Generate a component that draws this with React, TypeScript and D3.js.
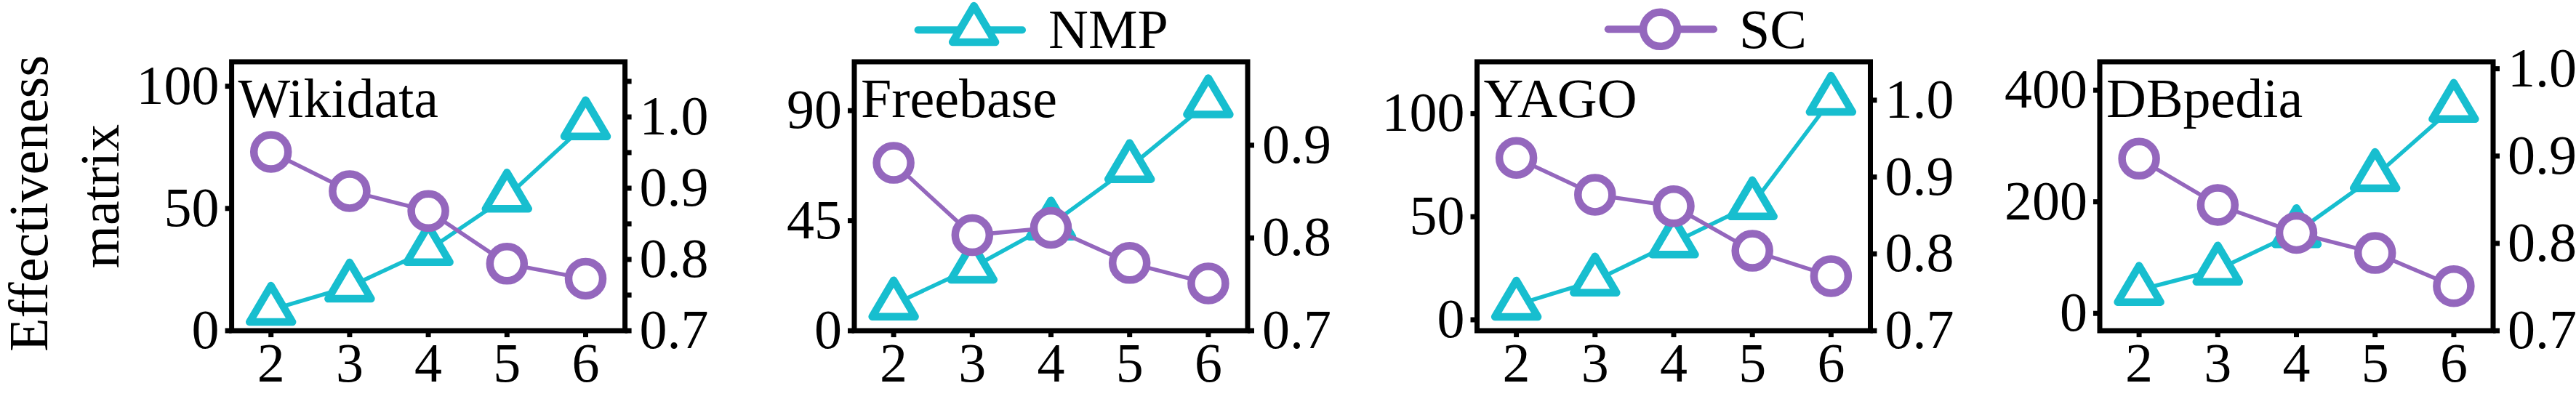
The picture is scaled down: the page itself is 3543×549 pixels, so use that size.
import React from "react";
import * as d3 from "d3";

// hops on the x axis
const hops = [2, 3, 4, 5, 6];
const datasets = ["Wikidata", "Freebase", "YAGO", "DBpedia"];

// NMP (left axis) and SC (right axis)
const nmpWikidata = [8.5, 18.0, 33.0, 54.8, 84.4];
const scWikidata = [0.951, 0.896, 0.868, 0.794, 0.773];
const nmpFreebase = [10.7, 25.8, 43.4, 66.9, 93.4];
const scFreebase = [0.881, 0.803, 0.811, 0.773, 0.751];
const nmpYago = [7.3, 19.0, 37.5, 56.0, 106.7];
const scYago = [0.925, 0.877, 0.862, 0.804, 0.771];
const nmpDbpedia = [42, 78.4, 145.5, 246, 370];
const scDbpedia = [0.897, 0.844, 0.812, 0.789, 0.751];

// tick labels
const leftTicks = [
  [0, 50, 100],
  [0, 45, 90],
  [0, 50, 100],
  [0, 200, 400],
];
const rightTicks = [
  [0.7, 0.75, 0.8, 0.85, 0.9, 0.95, 1.0, 1.05],
  [0.7, 0.8, 0.9],
  [0.7, 0.8, 0.9, 1.0],
  [0.7, 0.8, 0.9, 1.0],
];
const rightLabelled = [0.7, 0.8, 0.9, 1.0];

const nmpSeries = [nmpWikidata, nmpFreebase, nmpYago, nmpDbpedia];
const scSeries = [scWikidata, scFreebase, scYago, scDbpedia];

// axis limits of each panel
const leftDomains = [
  [0, 110],
  [0, 110],
  [-5.3, 125.2],
  [-31, 451],
];
const rightDomains = [
  [0.7, 1.0775],
  [0.7, 0.99],
  [0.7, 1.05],
  [0.7, 1.008],
];

const CYAN = "#17becf";
const PURPLE = "#9467bd";
const FONT = "'Liberation Serif', 'Times New Roman', Times, serif";
const FS = 76;

const dims = { width: 3543, height: 549 };
const panelLefts = [318.6, 1175, 2031.5, 2888];
const panel = { width: 541, top: 85, bottom: 455 };
const tick = 9;
const tri = { w: 59, h: 50 };
const circleR = 23.5;

const triPath = (cx: number, cy: number) =>
  `M${cx},${cy - (2 * tri.h) / 3}L${cx - tri.w / 2},${cy + tri.h / 3}L${
    cx + tri.w / 2
  },${cy + tri.h / 3}Z`;

const Panel = ({ i }: { i: number }) => {
  const left = panelLefts[i];
  const right = left + panel.width;

  const x = d3.scaleLinear().domain([1.5, 6.5]).range([left, right]);
  const yL = d3
    .scaleLinear()
    .domain(leftDomains[i])
    .range([panel.bottom, panel.top]);
  const yR = d3
    .scaleLinear()
    .domain(rightDomains[i])
    .range([panel.bottom, panel.top]);

  const nmp = hops.map((h, k) => [x(h), yL(nmpSeries[i][k])] as [number, number]);
  const sc = hops.map((h, k) => [x(h), yR(scSeries[i][k])] as [number, number]);
  const line = d3.line();

  return (
    <g>
      {/* NMP */}
      <path d={line(nmp)!} fill="none" stroke={CYAN} strokeWidth={5.5} />
      {nmp.map(([cx, cy], k) => (
        <path
          key={`t${k}`}
          d={triPath(cx, cy)}
          fill="#fff"
          stroke={CYAN}
          strokeWidth={10.5}
          strokeLinejoin="round"
        />
      ))}
      {/* SC */}
      <path d={line(sc)!} fill="none" stroke={PURPLE} strokeWidth={5.5} />
      {sc.map(([cx, cy], k) => (
        <circle
          key={`c${k}`}
          cx={cx}
          cy={cy}
          r={circleR}
          fill="#fff"
          stroke={PURPLE}
          strokeWidth={10.5}
        />
      ))}

      {/* frame */}
      <rect
        x={left}
        y={panel.top}
        width={panel.width}
        height={panel.bottom - panel.top}
        fill="none"
        stroke="#000"
        strokeWidth={7}
      />

      {/* left axis */}
      {leftTicks[i].map((t) => (
        <g key={`l${t}`}>
          <line
            x1={left - tick}
            x2={left}
            y1={yL(t)}
            y2={yL(t)}
            stroke="#000"
            strokeWidth={7}
          />
          <text
            x={left - tick - 8}
            y={yL(t) + 24}
            textAnchor="end"
            fontFamily={FONT}
            fontSize={FS}
          >
            {t}
          </text>
        </g>
      ))}

      {/* right axis */}
      {rightTicks[i].map((t) => (
        <g key={`r${t}`}>
          <line
            x1={right}
            x2={right + tick}
            y1={yR(t)}
            y2={yR(t)}
            stroke="#000"
            strokeWidth={7}
          />
          {rightLabelled.some((v) => Math.abs(v - t) < 1e-9) && (
            <text
              x={right + tick + 11}
              y={yR(t) + 24}
              fontFamily={FONT}
              fontSize={FS}
            >
              {t.toFixed(1)}
            </text>
          )}
        </g>
      ))}

      {/* bottom axis */}
      {hops.map((h) => (
        <g key={`b${h}`}>
          <line
            x1={x(h)}
            x2={x(h)}
            y1={panel.bottom}
            y2={panel.bottom + tick}
            stroke="#000"
            strokeWidth={7}
          />
          <text
            x={x(h)}
            y={panel.bottom + 70}
            textAnchor="middle"
            fontFamily={FONT}
            fontSize={FS}
          >
            {h}
          </text>
        </g>
      ))}

      <text x={left + 9} y={161} fontFamily={FONT} fontSize={FS}>
        {datasets[i]}
      </text>
    </g>
  );
};

const App = () => {
  const line = d3.line();
  const nmpLegend: [number, number][] = [
    [1262.6, 41.3],
    [1406, 41.3],
  ];
  const scLegend: [number, number][] = [
    [2211.8, 40.3],
    [2357, 40.3],
  ];

  return (
    <svg
      width={dims.width}
      height={dims.height}
      style={{ position: "absolute", left: 0, top: 0, background: "#fff" }}
    >
      <rect width={dims.width} height={dims.height} fill="#fff" />

      {/* y label */}
      <text
        transform={`translate(65, 280) rotate(-90)`}
        textAnchor="middle"
        fontFamily={FONT}
        fontSize={FS}
      >
        Effectiveness
      </text>
      <text
        transform={`translate(163, 270) rotate(-90)`}
        textAnchor="middle"
        fontFamily={FONT}
        fontSize={FS}
      >
        matrix
      </text>

      {datasets.map((d, i) => (
        <Panel key={d} i={i} />
      ))}

      {/* legend */}
      <path
        d={line(nmpLegend)!}
        stroke={CYAN}
        strokeWidth={10}
        strokeLinecap="round"
      />
      <path
        d={triPath(1339.6, 41.3)}
        fill="#fff"
        stroke={CYAN}
        strokeWidth={10.5}
        strokeLinejoin="round"
      />
      <text x={1442} y={66} fontFamily={FONT} fontSize={FS}>
        NMP
      </text>
      <path
        d={line(scLegend)!}
        stroke={PURPLE}
        strokeWidth={10}
        strokeLinecap="round"
      />
      <circle
        cx={2283.5}
        cy={40.3}
        r={circleR}
        fill="#fff"
        stroke={PURPLE}
        strokeWidth={10.5}
      />
      <text x={2392} y={66} fontFamily={FONT} fontSize={FS}>
        SC
      </text>
    </svg>
  );
};

export default App;
